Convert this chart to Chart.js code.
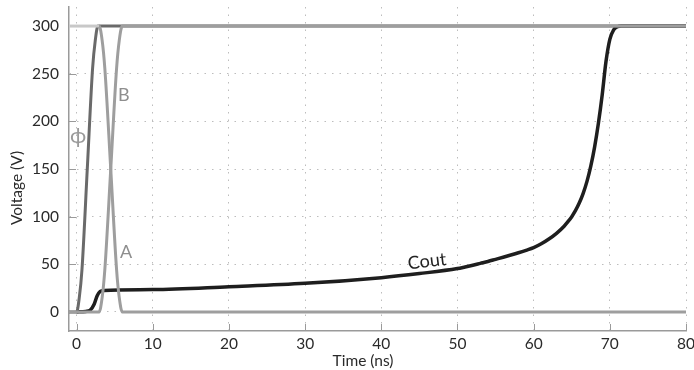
<!DOCTYPE html>
<html>
<head>
<meta charset="utf-8">
<script src="https://cdn.jsdelivr.net/npm/chart.js@4"></script>
<style>
  html, body { margin: 0; padding: 0; background: #fff; }
  #wrap { width: 694px; height: 370px; }
</style>
</head>
<body>
<div id="wrap"><canvas id="chart"></canvas></div>
<script>
// values (time in ns, voltage in V)
let phiTime = [-1, 0, 0.35, 0.7, 1.4, 2.1, 2.45, 2.8, 80];
let phiVolt = [0, 0, 15, 44, 150, 256, 285, 300, 300];

let aTime = [-1, 2.95, 3.35, 3.7, 4.48, 5.25, 5.6, 6.0, 80];
let aVolt = [300, 300, 285, 256, 150, 44, 15, 0, 0];

let bTime = [-1, 2.95, 3.35, 3.7, 4.48, 5.25, 5.6, 6.0, 80];
let bVolt = [0, 0, 15, 44, 150, 256, 285, 300, 300];

let coutTime = [0, 1.2, 1.8, 2.3, 2.7, 3.1, 3.6, 10, 20, 30, 40, 45, 50, 51, 52, 53, 54, 55, 56, 57, 58,
  59, 60, 61, 62, 63, 64, 64.5, 65, 65.5, 66, 66.5, 67, 67.5, 68, 68.5, 69, 69.5, 70, 70.5, 71, 71.5, 80];
let coutVolt = [0, 0.5, 2, 8, 17, 21.5, 22.5, 23.5, 26.5, 30, 36, 40.3, 45.5, 47.2, 49, 51, 53, 55.2, 57.4, 59.7, 62.1,
  64.7, 67.5, 71.5, 76.5, 82.5, 90, 94.7, 100, 106.5, 114.5, 124.5, 137, 153, 173, 198, 228, 263, 286, 296, 299.3, 300, 300];

let xTicks = [0, 10, 20, 30, 40, 50, 60, 70, 80];
let yTicks = [0, 50, 100, 150, 200, 250, 300];

function pts(xs, ys) {
  return xs.map((x, i) => ({ x: x, y: ys[i] }));
}

const FONT = "Lato, 'Open Sans', sans-serif";

// curve labels, placed in data coordinates
let labels = [
  { text: "B", t: 6.2, v: 227, color: "#8e8e8e", size: 18, rot: 0 },
  { text: "A", t: 6.5, v: 63, color: "#8e8e8e", size: 18, rot: 0 },
  { text: "ϕ", t: 0.2, v: 185, color: "#9a9a9a", size: 22, rot: 0 },
  { text: "Cout", t: 46, v: 53, color: "#222222", size: 18, rot: -7 }
];

const extras = {
  id: "extras",
  beforeDatasetsDraw(chart) {
    let ctx = chart.ctx;
    let xs = chart.scales.x, ys = chart.scales.y;
    let area = chart.chartArea;
    ctx.save();
    ctx.strokeStyle = "#9a9a9a";
    ctx.lineWidth = 1;
    ctx.beginPath();
    xTicks.forEach(v => {
      let px = Math.round(xs.getPixelForValue(v)) + 0.5;
      ctx.moveTo(px, area.bottom);
      ctx.lineTo(px, area.bottom - 7);
    });
    yTicks.forEach(v => {
      let py = Math.round(ys.getPixelForValue(v)) + 0.5;
      ctx.moveTo(area.left, py);
      ctx.lineTo(area.left + 7, py);
    });
    ctx.stroke();
    ctx.restore();
  },
  afterDraw(chart) {
    let ctx = chart.ctx;
    let xs = chart.scales.x, ys = chart.scales.y;
    ctx.save();
    ctx.textAlign = "center";
    ctx.textBaseline = "middle";
    labels.forEach(l => {
      ctx.save();
      ctx.translate(xs.getPixelForValue(l.t), ys.getPixelForValue(l.v));
      ctx.rotate(l.rot * Math.PI / 180);
      ctx.fillStyle = l.color;
      ctx.font = l.size + "px " + FONT;
      ctx.fillText(l.text, 0, 0);
      ctx.restore();
    });
    // axis titles
    ctx.fillStyle = "#2a2a2a";
    ctx.font = "15.5px " + FONT;
    ctx.fillText("Time (ns)", 363, 361);
    ctx.translate(17, 188);
    ctx.rotate(-Math.PI / 2);
    ctx.fillText("Voltage (V)", 0, 0);
    ctx.restore();
  }
};

let ctx = document.getElementById("chart").getContext("2d");
let chart = new Chart(ctx, {
  type: "scatter",
  data: {
    datasets: [
      {
        label: "A",
        data: pts(aTime, aVolt),
        borderColor: "#9e9e9e",
        segment: { borderColor: c => c.p1.parsed.x <= 3 ? "#c8c8c8" : "#9e9e9e" },
        borderWidth: 3
      },
      {
        label: "B",
        data: pts(bTime, bVolt),
        borderColor: "#9e9e9e",
        borderWidth: 3
      },
      {
        label: "Phi",
        data: pts(phiTime, phiVolt),
        borderColor: "#6a6a6a",
        borderWidth: 3
      },
      {
        label: "Cout",
        data: pts(coutTime, coutVolt),
        borderColor: "#1e1e1e",
        borderWidth: 3.5
      }
    ]
  },
  options: {
    responsive: true,
    maintainAspectRatio: false,
    animation: false,
    showLine: true,
    layout: { padding: { top: 7, right: 8, left: 0, bottom: 0 } },
    elements: {
      point: { radius: 0 },
      line: { cubicInterpolationMode: "monotone", fill: false, borderCapStyle: "butt" }
    },
    plugins: {
      legend: { display: false },
      tooltip: { enabled: false }
    },
    scales: {
      x: {
        type: "linear",
        min: -1,
        max: 80,
        afterBuildTicks: s => { s.ticks = xTicks.map(v => ({ value: v })); },
        afterFit: s => { s.height = 39; s.paddingLeft = 0; s.paddingRight = 0; },
        ticks: { color: "#2a2a2a", font: { family: FONT, size: 15.5 }, padding: 4, maxRotation: 0 },
        grid: { color: "#bdbdbd", lineWidth: 1, drawTicks: false },
        border: { display: true, color: "#9a9a9a", width: 1.5, dash: [1.5, 6] }
      },
      y: {
        type: "linear",
        min: -20,
        max: 320,
        afterBuildTicks: s => { s.ticks = yTicks.map(v => ({ value: v })); },
        afterFit: s => { s.width = 69; s.paddingTop = 0; s.paddingBottom = 0; },
        ticks: { color: "#2a2a2a", font: { family: FONT, size: 15.5 }, padding: 10 },
        grid: { color: "#bdbdbd", lineWidth: 1, drawTicks: false },
        border: { display: true, color: "#9a9a9a", width: 1.5, dash: [1.5, 6] }
      }
    }
  },
  plugins: [extras]
});
</script>
</body>
</html>
